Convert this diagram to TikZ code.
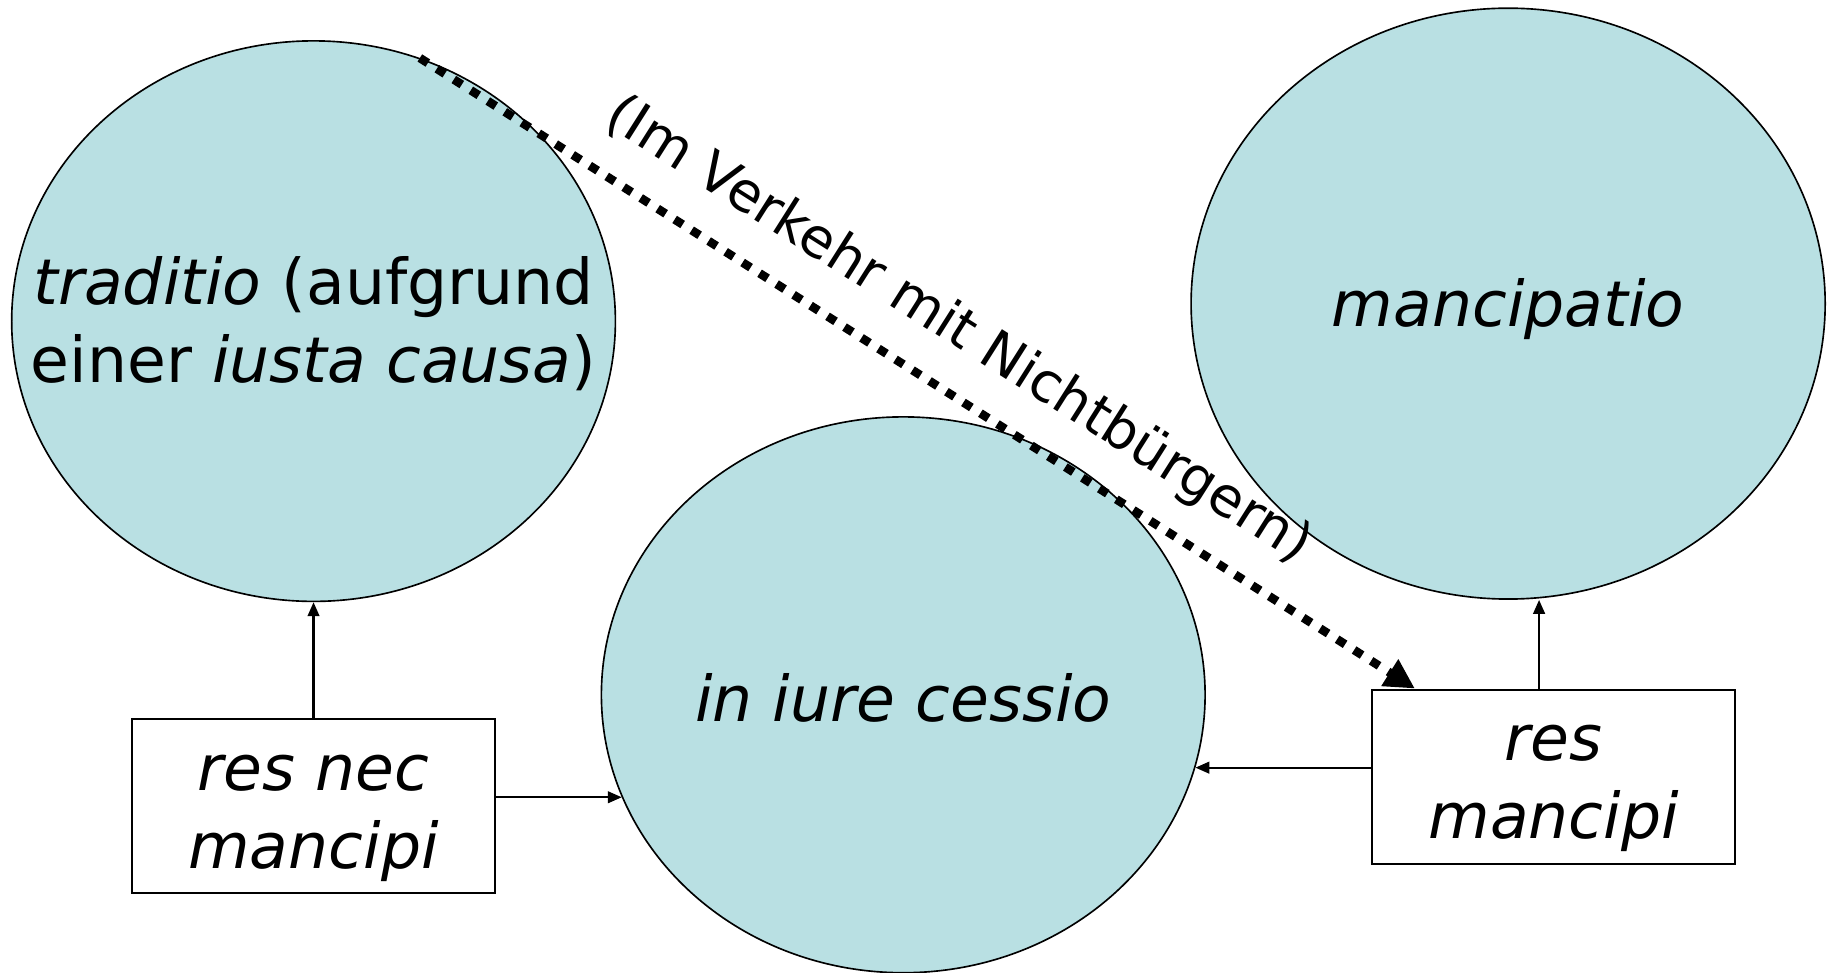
\documentclass[tikz,border=0pt]{standalone}
\usepackage{fontspec}
\setmainfont{DejaVu Sans}
\usetikzlibrary{positioning}
\usetikzlibrary{calc}
\usetikzlibrary{shapes.geometric}
\usetikzlibrary{arrows.meta}
\definecolor{lightteal}{RGB}{185,224,227}
\newcommand{\mainsize}{\fontsize{15.4}{19}\selectfont}
\tikzset{>={Triangle[length=1.2mm,width=1mm]}}
\tikzset{ell/.style={draw,ellipse,fill=lightteal,line width=0.4pt,inner sep=0pt}}
\tikzset{txt/.style={align=center,inner sep=0pt,font=\mainsize}}
\tikzset{box/.style={draw,rectangle,fill=white,minimum width=3.11cm,minimum height=1.49cm,line width=0.5pt,inner sep=0pt}}
\tikzset{ed/.style={line width=0.55pt}}
\tikzset{dotarrow/.style={line width=2.1pt,dash pattern=on 2.3pt off 2.6pt,-{Triangle[length=2.55mm,width=2.55mm]}}}
\tikzset{lab/.style={inner sep=0pt,font=\fontsize{13.35}{15}\selectfont}}

\begin{document}
\begin{tikzpicture}
\useasboundingbox (0,0) rectangle (15.68,8.33);

\node[ell, minimum width=5.17cm, minimum height=4.80cm,
 label={[txt,yshift=-0.2mm]center:\textit{traditio} (aufgrund\\einer \textit{iusta causa})}] (trad) at (2.685,5.58) {};
\node[ell, minimum width=5.43cm, minimum height=5.06cm,
 label={[txt,yshift=-0.5mm]center:\textit{mancipatio}}] (manc) at (12.915,5.73) {};
\node[ell, minimum width=5.17cm, minimum height=4.76cm,
 label={[txt,yshift=-0.3mm]center:\textit{in iure cessio}}] (iure) at (7.735,2.38) {};

\node[box, label={[txt,yshift=-1mm]center:\textit{res nec}\\\textit{mancipi}}] (resnec) at (2.685,1.425) {};
\node[box, label={[txt,yshift=-1mm]center:\textit{res}\\\textit{mancipi}}] (res) at (13.305,1.68) {};

\draw[->,ed] (resnec) -- (trad);
\draw[->,ed] (resnec.east |- iure.200) -- (iure.200);

\coordinate (rtop) at ([xshift=-1.25mm]res.north);
\draw[->,ed] (rtop) -- (rtop |- manc.south);
\draw[->,ed] (res.west |- iure.-14) -- (iure.-14);

\coordinate (tipend) at ($(res.north west)!0.12!(res.north east)$);
\draw[dotarrow] (trad.68) -- node[lab, sloped, above=2.3mm, pos=0.51] {(Im Verkehr mit Nichtbürgern)} (tipend);
\end{tikzpicture}
\end{document}
